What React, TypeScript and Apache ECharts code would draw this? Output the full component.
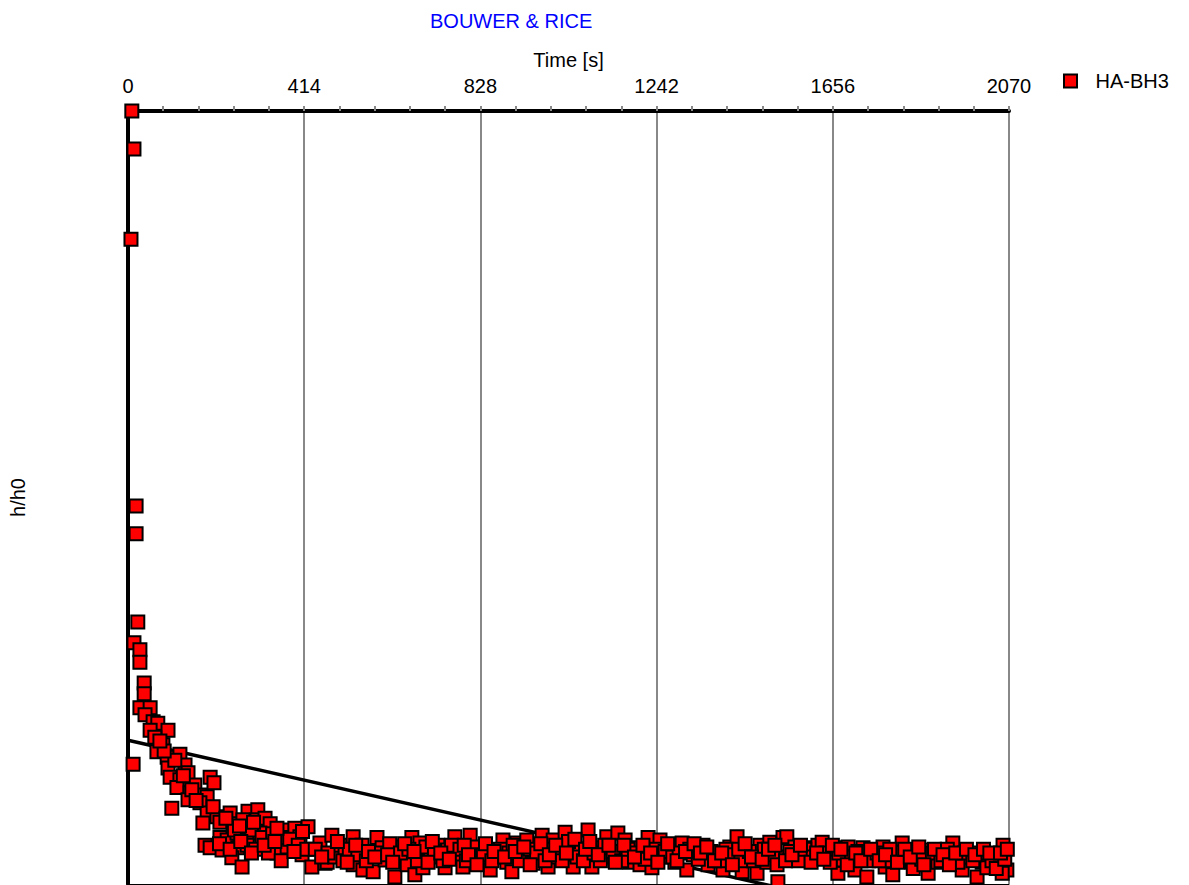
import React, { useEffect, useRef } from "react";
import * as echarts from "echarts";

// Time [s], h/h0 (relative)
const titleText = "BOUWER & RICE";
const xTicks = [0, 414, 828, 1242, 1656, 2070];
const seriesName = "HA-BH3";

const earlyPoints: [number, number][] = [
  [9, 1.0], [14, 0.951], [7, 0.834], [19, 0.489], [19, 0.453], [23, 0.339],
  [14, 0.312], [28, 0.303], [28, 0.287], [38, 0.26], [38, 0.246], [28, 0.228],
  [52, 0.228], [40, 0.219], [59, 0.21], [70, 0.208], [52, 0.199], [94, 0.199],
  [63, 0.19], [82, 0.18], [68, 0.171], [92, 0.164], [122, 0.168], [12, 0.155],
  [94, 0.15], [134, 0.154], [99, 0.138], [141, 0.144], [122, 0.135], [115, 0.125],
  [157, 0.128], [193, 0.138], [202, 0.131], [146, 0.118], [169, 0.115], [186, 0.113],
  [141, 0.109], [103, 0.098], [169, 0.105], [186, 0.092], [176, 0.079], [209, 0.087],
  [240, 0.092], [282, 0.094], [305, 0.096], [216, 0.08], [247, 0.078], [270, 0.083],
  [303, 0.083], [322, 0.085], [334, 0.078], [364, 0.07], [392, 0.072], [423, 0.074],
  [181, 0.05], [193, 0.047], [216, 0.06], [233, 0.057], [256, 0.066], [280, 0.057],
  [258, 0.047], [221, 0.044], [244, 0.034], [268, 0.022], [310, 0.066], [327, 0.053],
  [350, 0.04], [374, 0.048], [404, 0.061], [409, 0.038], [432, 0.022], [451, 0.053],
  [463, 0.027], [250, 0.07], [290, 0.07], [315, 0.06], [340, 0.065], [360, 0.06],
  [380, 0.058], [400, 0.05], [420, 0.045], [280, 0.05], [300, 0.045], [330, 0.04], [360, 0.03],
  [150, 0.122], [160, 0.108], [130, 0.14], [110, 0.16], [85, 0.172], [75, 0.185],
  [200, 0.1], [230, 0.085], [262, 0.075], [295, 0.08], [350, 0.072], [410, 0.068],
  [215, 0.052], [240, 0.045], [265, 0.055], [290, 0.04], [320, 0.05], [345, 0.055], [390, 0.042],
];

const bandPoints: [number, number][] = [
  [479, 0.063], [468, 0.028], [486, 0.035], [498, 0.05], [510, 0.04], [529, 0.061],
  [529, 0.025], [550, 0.05], [552, 0.018], [576, 0.016], [585, 0.06], [597, 0.047],
  [604, 0.031], [627, 0.009], [632, 0.048], [646, 0.035], [656, 0.025], [667, 0.06],
  [674, 0.012], [686, 0.053], [693, 0.021], [710, 0.035], [728, 0.05], [745, 0.021],
  [750, 0.044], [768, 0.061], [773, 0.035], [787, 0.022], [804, 0.063], [808, 0.04],
  [827, 0.031], [844, 0.044], [851, 0.018], [867, 0.035], [881, 0.057], [890, 0.028],
  [902, 0.016], [914, 0.053], [926, 0.035], [937, 0.057], [952, 0.027], [963, 0.044],
  [973, 0.063], [987, 0.022], [999, 0.057], [1008, 0.035], [1027, 0.067], [1039, 0.05],
  [1046, 0.022], [1062, 0.044], [1081, 0.07], [1090, 0.022], [1102, 0.047], [1125, 0.061],
  [1133, 0.035], [1151, 0.066], [1168, 0.057], [1179, 0.028], [1187, 0.047], [1203, 0.025],
  [1222, 0.06], [1231, 0.021], [1250, 0.057], [1255, 0.035], [1273, 0.047], [1285, 0.028],
  [1302, 0.053], [1313, 0.018], [1328, 0.038], [1351, 0.05], [1363, 0.025], [1384, 0.04],
  [1398, 0.018], [1414, 0.048], [1431, 0.061], [1443, 0.016], [1454, 0.035], [1478, 0.014],
  [1485, 0.05], [1501, 0.028], [1508, 0.054], [1527, 0.003], [1539, 0.06], [1532, 0.035],
  [1548, 0.061], [1567, 0.048], [1586, 0.035], [1598, 0.047], [1621, 0.05], [1631, 0.054],
  [1661, 0.047], [1668, 0.014], [1680, 0.031], [1692, 0.048], [1708, 0.018], [1727, 0.047],
  [1736, 0.009], [1750, 0.035], [1774, 0.048], [1779, 0.022], [1797, 0.012], [1802, 0.035],
  [1819, 0.053], [1814, 0.041], [1842, 0.028], [1854, 0.04], [1873, 0.044], [1880, 0.014],
  [1903, 0.028], [1920, 0.038], [1938, 0.053], [1936, 0.035], [1960, 0.018], [1978, 0.035],
  [1995, 0.009], [2007, 0.028], [2018, 0.021], [2044, 0.034], [2056, 0.05], [2065, 0.018],
  [2054, 0.014],
];

const bandExtra: [number, number][] = [
  [440, 0.045], [470, 0.04], [505, 0.03], [520, 0.045], [540, 0.038], [560, 0.03],
  [590, 0.04], [615, 0.052], [640, 0.04], [660, 0.045], [680, 0.03], [700, 0.048],
  [720, 0.042], [740, 0.03], [760, 0.05], [780, 0.045], [795, 0.03], [815, 0.048],
  [835, 0.038], [855, 0.03], [875, 0.045], [895, 0.04], [905, 0.05], [920, 0.03],
  [945, 0.045], [960, 0.04], [980, 0.03], [995, 0.045], [1015, 0.04], [1020, 0.03],
  [1035, 0.055], [1055, 0.035], [1070, 0.03], [1095, 0.04], [1110, 0.03], [1120, 0.05],
  [1140, 0.042], [1160, 0.03], [1175, 0.045], [1195, 0.04], [1215, 0.032], [1240, 0.045],
  [1262, 0.042], [1280, 0.035], [1295, 0.04], [1320, 0.045], [1340, 0.032], [1370, 0.042],
  [1390, 0.03], [1405, 0.045], [1425, 0.038], [1440, 0.03], [1460, 0.042], [1470, 0.03],
  [1495, 0.045], [1515, 0.038], [1525, 0.025], [1555, 0.042], [1575, 0.03], [1590, 0.045],
  [1610, 0.035], [1640, 0.04], [1650, 0.028], [1670, 0.04], [1700, 0.035], [1715, 0.042],
  [1740, 0.03], [1760, 0.04], [1785, 0.03], [1790, 0.045], [1830, 0.038], [1845, 0.02],
  [1865, 0.032], [1890, 0.04], [1910, 0.03], [1925, 0.045], [1950, 0.028], [1965, 0.04],
  [1985, 0.03], [2000, 0.04], [2030, 0.03], [2040, 0.02], [2060, 0.032],
];

const bandExtra2: [number, number][] = [
  [455, 0.035], [492, 0.055], [515, 0.028], [535, 0.05], [565, 0.042], [580, 0.035],
  [610, 0.038], [622, 0.028], [650, 0.052], [672, 0.042], [705, 0.028], [715, 0.055],
  [735, 0.04], [755, 0.032], [790, 0.05], [800, 0.038], [820, 0.025], [840, 0.052],
  [860, 0.042], [885, 0.035], [910, 0.042], [930, 0.048], [945, 0.025], [970, 0.052],
  [990, 0.038], [1005, 0.05], [1030, 0.04], [1050, 0.058], [1075, 0.045], [1085, 0.055],
  [1105, 0.038], [1130, 0.05], [1145, 0.028], [1165, 0.05], [1190, 0.035], [1210, 0.05],
  [1228, 0.04], [1245, 0.028], [1268, 0.052], [1290, 0.03], [1310, 0.042], [1330, 0.052],
  [1345, 0.04], [1360, 0.048], [1378, 0.03], [1395, 0.04], [1420, 0.025], [1435, 0.045],
  [1450, 0.052], [1465, 0.035], [1490, 0.032], [1505, 0.045], [1520, 0.05], [1545, 0.03],
  [1560, 0.038], [1580, 0.05], [1605, 0.028], [1618, 0.04], [1635, 0.032], [1655, 0.05],
  [1675, 0.045], [1690, 0.025], [1710, 0.04], [1722, 0.03], [1745, 0.045], [1765, 0.03],
  [1780, 0.038], [1808, 0.028], [1825, 0.045], [1838, 0.035], [1858, 0.048], [1870, 0.025],
  [1895, 0.045], [1915, 0.038], [1930, 0.025], [1945, 0.04], [1970, 0.045], [1990, 0.038],
  [2010, 0.045], [2025, 0.04], [2050, 0.04], [2066, 0.045],
];

// fitted straight line (start, end)
const fitLine: [number, number][] = [
  [0, 0.186],
  [2070, -0.072],
];

const FONT = "'Liberation Sans', Arial, sans-serif";

export default function App() {
  const ref = useRef<HTMLDivElement>(null);
  useEffect(() => {
    if (!ref.current) return;
    const chart = echarts.init(ref.current, undefined, { renderer: "svg" });
    chart.setOption({
      animation: false,
      backgroundColor: "#ffffff",
      textStyle: { fontFamily: FONT },
      title: {
        text: titleText,
        left: 425,
        top: 6,
        textStyle: { color: "#0000ff", fontSize: 20, fontWeight: "normal", fontFamily: FONT },
      },
      legend: {
        data: [seriesName],
        left: 1058,
        top: 66,
        itemWidth: 40,
        itemHeight: 13,
        icon: "path://M0,0L10,0L10,10L0,10Z",
        textStyle: { fontSize: 20, color: "#000", fontFamily: FONT },
      },
      grid: { left: 128, right: 180, top: 111, bottom: 1, containLabel: false },
      xAxis: [
        {
          type: "value",
          position: "top",
          min: 0,
          max: 2070,
          interval: 414,
          name: "Time [s]",
          nameLocation: "middle",
          nameGap: 41,
          nameTextStyle: { fontSize: 20, color: "#000", fontFamily: FONT },
          axisLine: { show: true, onZero: false, lineStyle: { color: "#000", width: 4 } },
          axisTick: { show: true, length: 5, lineStyle: { color: "#888", width: 2 } },
          minorTick: { show: true, splitNumber: 5, length: 5, lineStyle: { color: "#888", width: 2 } },
          axisLabel: { fontSize: 20, color: "#000", margin: 15, fontFamily: FONT,
            formatter: (v: number) => (xTicks.includes(v) ? String(v) : "") },
          splitLine: { show: true, lineStyle: { color: "#888", width: 2 } },
        },
        {
          type: "value",
          position: "bottom",
          min: 0,
          max: 2070,
          axisLine: { show: true, onZero: false, lineStyle: { color: "#000", width: 1 } },
          axisTick: { show: false },
          axisLabel: { show: false },
          splitLine: { show: false },
        },
      ],
      yAxis: {
        type: "value",
        min: 0,
        max: 1,
        name: "h/h0",
        nameLocation: "middle",
        nameGap: 100,
        nameTextStyle: { fontSize: 20, color: "#000", fontFamily: FONT },
        axisLine: { show: true, onZero: false, lineStyle: { color: "#000", width: 4 } },
        axisTick: { show: false },
        axisLabel: { show: false },
        splitLine: { show: false },
      },
      series: [
        {
          name: "fit",
          type: "line",
          data: fitLine,
          symbol: "none",
          clip: true,
          z: 1,
          lineStyle: { color: "#000", width: 3.5 },
        },
        {
          name: seriesName,
          type: "scatter",
          data: [...earlyPoints, ...bandPoints, ...bandExtra, ...bandExtra2],
          symbol: "rect",
          symbolSize: 13,
          clip: true,
          z: 2,
          itemStyle: { color: "#ff0000", borderColor: "#000", borderWidth: 2, opacity: 1 },
        },
      ],
    });
    return () => chart.dispose();
  }, []);
  return <div ref={ref} style={{ width: 1189, height: 885, position: "absolute", left: 0, top: 0 }} />;
}
